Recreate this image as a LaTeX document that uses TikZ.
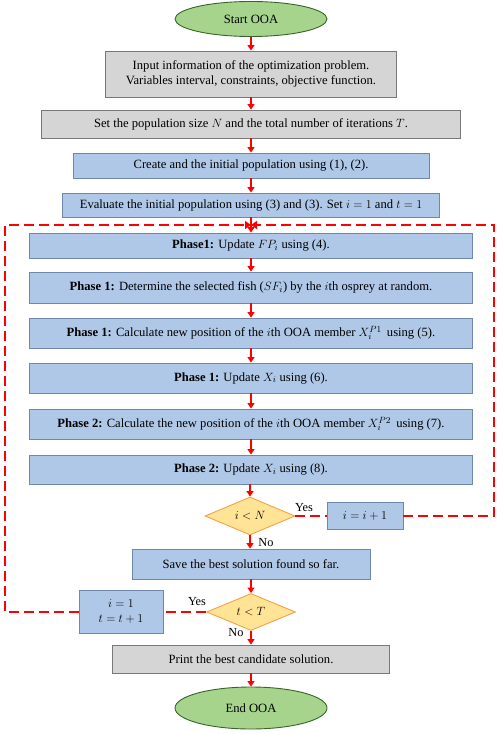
\documentclass[tikz,border=0pt]{standalone}
\usepackage{fontspec}
\setmainfont{Liberation Serif}
\usetikzlibrary{shapes.geometric,arrows.meta}
\definecolor{gfill}{RGB}{166,212,140}
\definecolor{gdraw}{RGB}{56,100,40}
\definecolor{grayfill}{RGB}{214,213,213}
\definecolor{graydraw}{RGB}{120,120,120}
\definecolor{bfill}{RGB}{176,200,232}
\definecolor{bdraw}{RGB}{110,135,170}
\definecolor{yfill}{RGB}{255,228,150}
\definecolor{ydraw}{RGB}{245,160,70}
\definecolor{arr}{RGB}{255,0,0}
\begin{document}
\begin{tikzpicture}[x=1pt,y=-1pt,
  every node/.style={font=\fontsize{12.6}{15}\selectfont, inner sep=0pt},
  term/.style={ellipse, draw=gdraw, fill=gfill, line width=0.9pt},
  graybox/.style={rectangle, draw=graydraw, fill=grayfill, line width=0.9pt},
  bluebox/.style={rectangle, draw=bdraw, fill=bfill, line width=0.9pt},
  decide/.style={diamond, aspect=2.4, draw=ydraw, fill=yfill, line width=0.9pt},
  flow/.style={draw=arr, line width=2pt, -{Triangle[width=7pt,length=5.5pt]}},
  loopline/.style={draw=arr, line width=2.6pt, dash pattern=on 10pt off 5pt},
  lbl/.style={font=\fontsize{12.3}{14}\selectfont}
]
\useasboundingbox (0,0) rectangle (498,735);

\node[term, minimum width=152pt, minimum height=35pt] (start) at (251,19) {Start OOA};
\node[graybox, minimum width=291pt, minimum height=46pt, align=center] (inp) at (251,74)
  {Input information of the optimization problem.\\ Variables interval, constraints, objective function.};
\node[graybox, minimum width=419pt, minimum height=28pt] (setp) at (251,124)
  {Set the population size $N$ and the total number of iterations $T$.};
\node[bluebox, minimum width=356pt, minimum height=25pt] (create) at (251,165.5)
  {Create and the initial population using (1), (2).};
\node[bluebox, minimum width=377pt, minimum height=24pt] (eval) at (251,205)
  {Evaluate the initial population using (3) and (3). Set $i = 1$ and $t = 1$};

\node[bluebox, minimum width=443pt, minimum height=25pt] (pa) at (251,245.5)
  {\textbf{Phase1:} Update $FP_i$ using (4).};
\node[bluebox, minimum width=443pt, minimum height=31pt] (pb) at (251,287.5)
  {\textbf{Phase 1:} Determine the selected fish ($SF_i$) by the $i$th osprey at random.};
\node[bluebox, minimum width=443pt, minimum height=30pt] (pc) at (251,333)
  {\textbf{Phase 1:} Calculate new position of the $i$th OOA member $X^{P1}_{i}$\, using (5).};
\node[bluebox, minimum width=443pt, minimum height=30pt] (pd) at (251,378)
  {\textbf{Phase 1:} Update $X_i$ using (6).};
\node[bluebox, minimum width=443pt, minimum height=30pt] (pe) at (251,424)
  {\textbf{Phase 2:} Calculate the new position of the $i$th OOA member $X^{P2}_{i}$\, using (7).};
\node[bluebox, minimum width=443pt, minimum height=29pt] (pf) at (251,469.5)
  {\textbf{Phase 2:} Update $X_i$ using (8).};

\node[decide, minimum width=90pt, minimum height=38pt] (dn) at (250,516) {$i<N$};
\node[bluebox, minimum width=76pt, minimum height=27pt] (inc) at (365,516) {$i=i+1$};
\node[bluebox, minimum width=238pt, minimum height=30pt] (save) at (251,564)
  {Save the best solution found so far.};
\node[decide, minimum width=89pt, minimum height=37pt] (dt) at (251,612) {$t<T$};
\node[bluebox, minimum width=84pt, minimum height=43pt, align=center] (reset) at (121,612)
  {$i=1$\\$t=t+1$};
\node[graybox, minimum width=277pt, minimum height=28pt] (print) at (251,659)
  {Print the best candidate solution.};
\node[term, minimum width=152pt, minimum height=42pt] (stop) at (251,708) {End OOA};

\node[lbl] (yes1) at (304,508) {Yes};
\node[lbl] (no1) at (266,543) {No};
\node[lbl] (yes2) at (197,602) {Yes};
\node[lbl] (no2) at (236,633) {No};

\coordinate (topc) at (251,225);
\coordinate (rc) at (494,225);
\coordinate (lc) at (5,225);

\draw[flow] (start) -- (inp);
\draw[flow] (inp) -- (setp);
\draw[flow] (setp) -- (create);
\draw[flow] (create) -- (eval);
\draw[flow] (eval) -- (pa);
\draw[flow] (pa) -- (pb);
\draw[flow] (pb) -- (pc);
\draw[flow] (pc) -- (pd);
\draw[flow] (pd) -- (pe);
\draw[flow] (pe) -- (pf);
\draw[flow] (pf.south -| dn.north) -- (dn.north);
\draw[flow] (dn.south) -- (dn.south |- save.north);
\draw[flow] (save.south -| dt.north) -- (dt.north);
\draw[flow] (dt) -- (print);
\draw[flow] (print) -- (stop);

\draw[loopline] (dn.east) -- (inc.west);
\draw[loopline, -{Triangle[width=8pt,length=6pt]}] (inc.east) -| (rc) -- (topc);
\draw[loopline] (dt.west) -- (reset.east);
\draw[loopline, -{Triangle[width=8pt,length=6pt]}] (reset.west) -| (lc) -- (topc);
\end{tikzpicture}
\end{document}
